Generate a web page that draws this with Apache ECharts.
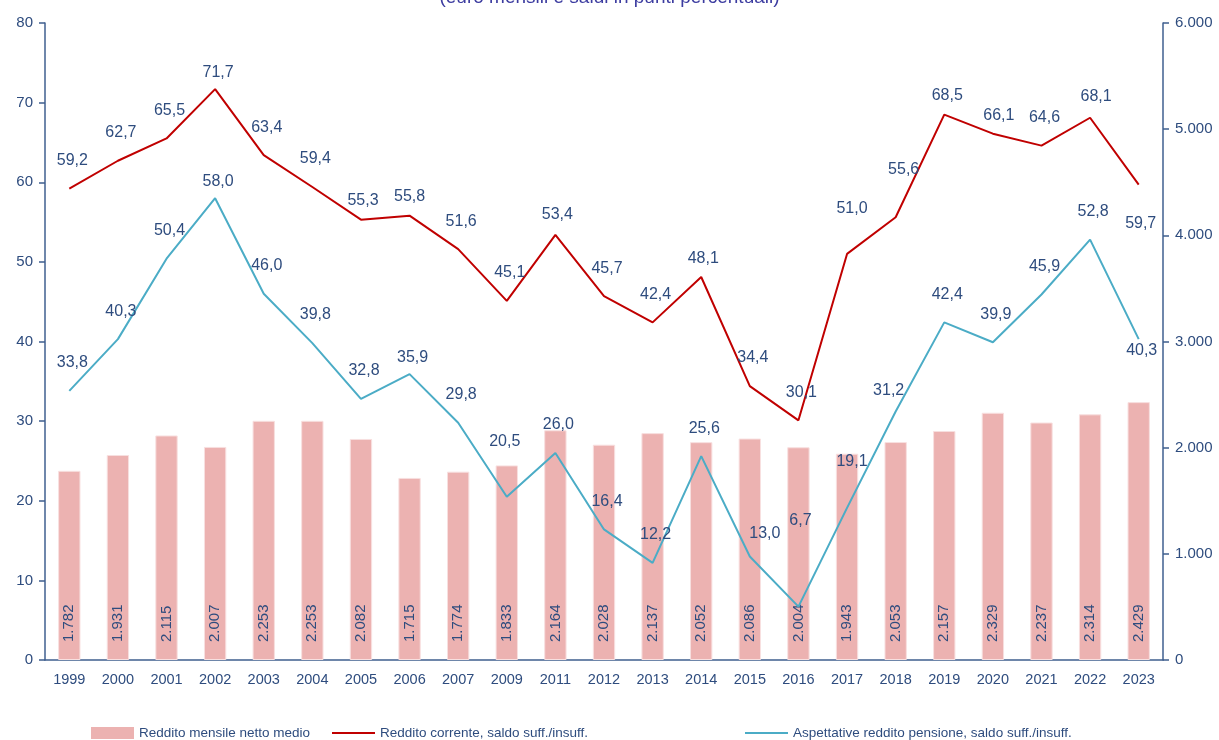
<!DOCTYPE html>
<html>
<head>
<meta charset="utf-8">
<script src="https://cdn.jsdelivr.net/npm/echarts@6/dist/echarts.min.js"></script>
<style>
  html, body {margin: 0; padding: 0; background: #fff;}
  #chart {width: 1219px; height: 740px;}
</style>
</head>
<body>
<div id="chart"></div>
<script>
const years = ["1999", "2000", "2001", "2002", "2003", "2004", "2005", "2006", "2007", "2009", "2011", "2012",
  "2013", "2014", "2015", "2016", "2017", "2018", "2019", "2020", "2021", "2022", "2023"]
const reddito = [1782, 1931, 2115, 2007, 2253, 2253, 2082, 1715, 1774, 1833, 2164, 2028,
  2137, 2052, 2086, 2004, 1943, 2053, 2157, 2329, 2237, 2314, 2429]
const corrente = [59.2, 62.7, 65.5, 71.7, 63.4, 59.4, 55.3, 55.8, 51.6, 45.1, 53.4, 45.7,
  42.4, 48.1, 34.4, 30.1, 51.0, 55.6, 68.5, 66.1, 64.6, 68.1, 59.7]
const pensione = [33.8, 40.3, 50.4, 58.0, 46.0, 39.8, 32.8, 35.9, 29.8, 20.5, 26.0, 16.4,
  12.2, 25.6, 13.0, 6.7, 19.1, 31.2, 42.4, 39.9, 45.9, 52.8, 40.3]
const leftTicks = [0, 10, 20, 30, 40, 50, 60, 70, 80]
const rightTicks = [0, 1000, 2000, 3000, 4000, 5000, 6000]

// label offsets (centre of label relative to point), picked by eye
const offCorrente = {3: [3, -16], 6: [2, -19], 7: [0, -19], 10: [2, -20], 13: [2, -18],
  16: [5, -45], 17: [8, -48], 18: [3, -19], 19: [6, -18], 21: [6, -21], 22: [2, 39]}
const offPensione = {3: [3, -17], 7: [3, -17], 9: [-2, -55], 14: [15, -23], 15: [2, -86],
  16: [5, -46], 17: [-7, -21], 22: [3, 11]}

const font = "'Liberation Sans', Arial, sans-serif"
const txt = "#2E4C7E"
const axisCol = "#3F5F8F"
const red = "#C00000"
const blue = "#4BACC6"

const fmtThousands = v => String(v).replace(/\B(?=(\d{3})+(?!\d))/g, ".")
const fmtDec = v => v.toFixed(1).replace(".", ",")

const lineData = (arr, offs) => arr.map((v, i) => ({
  value: v,
  label: {offset: offs[i] || [3, -28]}
}))

const lineIcon = "path://M0,0 L40,0 L40,2 L0,2 Z"
const legendBase = {
  top: 721,
  itemWidth: 43,
  itemHeight: 12,
  itemGap: 7,
  textStyle: {color: txt, fontSize: 13.5, fontFamily: font}
}

const myChart = echarts.init(document.getElementById("chart"))
myChart.setOption({
  animation: false,
  textStyle: {fontFamily: font},
  title: {
    text: "(euro mensili e saldi in punti percentuali)",
    left: "center",
    top: -17,
    textStyle: {color: "#3C3CA0", fontSize: 19, fontWeight: "normal", fontFamily: font}
  },
  grid: {left: 45, right: 56, top: 23, bottom: 80},
  legend: [
    Object.assign({}, legendBase, {left: 86, data: [{name: "Reddito mensile netto medio", icon: "rect", itemStyle: {borderWidth: 0}}]}),
    Object.assign({}, legendBase, {left: 327, data: [{name: "Reddito corrente, saldo suff./insuff.", icon: lineIcon}]}),
    Object.assign({}, legendBase, {left: 740, data: [{name: "Aspettative reddito pensione, saldo suff./insuff.", icon: lineIcon}]})
  ],
  xAxis: {
    type: "category",
    data: years,
    axisLine: {lineStyle: {color: axisCol, width: 1.5}},
    axisTick: {lineStyle: {color: axisCol, width: 1.5}, length: 6},
    axisLabel: {color: txt, fontSize: 14.5, margin: 12}
  },
  yAxis: [
    {
      type: "value",
      min: leftTicks[0],
      max: leftTicks[leftTicks.length - 1],
      interval: 10,
      splitLine: {show: false},
      axisLine: {show: true, lineStyle: {color: axisCol, width: 1.5}},
      axisTick: {show: true, length: 6, lineStyle: {color: axisCol, width: 1.5}},
      axisLabel: {color: txt, fontSize: 15, margin: 12}
    },
    {
      type: "value",
      min: rightTicks[0],
      max: rightTicks[rightTicks.length - 1],
      interval: 1000,
      position: "right",
      splitLine: {show: false},
      axisLine: {show: true, lineStyle: {color: axisCol, width: 1.5}},
      axisTick: {show: true, length: 6, lineStyle: {color: axisCol, width: 1.5}},
      axisLabel: {color: txt, fontSize: 15, margin: 12, formatter: v => fmtThousands(v)}
    }
  ],
  series: [
    {
      name: "Reddito mensile netto medio",
      type: "bar",
      yAxisIndex: 1,
      barWidth: "46%",
      data: reddito,
      itemStyle: {color: "#ECB2B1", borderColor: "#F8E0E0", borderWidth: 1},
      label: {
        show: true,
        position: "insideBottom",
        rotate: 90,
        align: "left",
        verticalAlign: "middle",
        distance: 18,
        color: txt,
        fontSize: 15,
        fontFamily: font,
        formatter: p => fmtThousands(p.value)
      }
    },
    {
      name: "Reddito corrente, saldo suff./insuff.",
      type: "line",
      data: lineData(corrente, offCorrente),
      symbol: "circle",
      symbolSize: 0.1,
      itemStyle: {color: red},
      lineStyle: {color: red, width: 2},
      label: {
        show: true,
        position: "inside",
        color: txt,
        fontSize: 16,
        fontFamily: font,
        formatter: p => fmtDec(p.value)
      },
      z: 3
    },
    {
      name: "Aspettative reddito pensione, saldo suff./insuff.",
      type: "line",
      data: lineData(pensione, offPensione),
      symbol: "circle",
      symbolSize: 0.1,
      itemStyle: {color: blue},
      lineStyle: {color: blue, width: 2},
      label: {
        show: true,
        position: "inside",
        color: txt,
        fontSize: 16,
        fontFamily: font,
        formatter: p => fmtDec(p.value)
      },
      z: 3
    }
  ]
})
</script>
</body>
</html>
